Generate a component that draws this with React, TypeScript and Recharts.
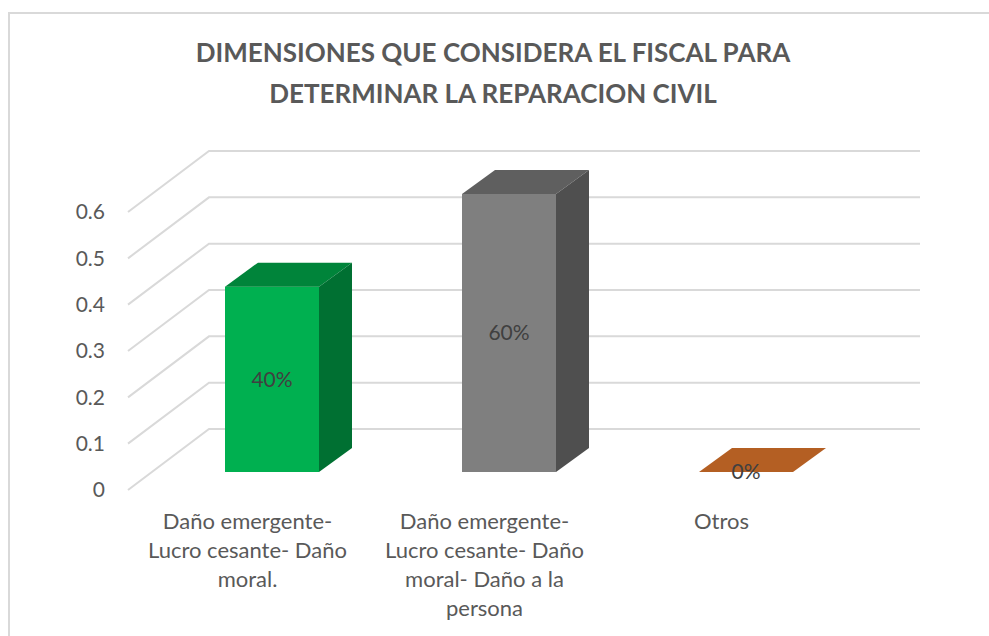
import { BarChart, Bar, XAxis, YAxis, CartesianGrid, Cell, LabelList } from 'recharts';

const categories = [
  'Daño emergente- Lucro cesante- Daño moral.',
  'Daño emergente- Lucro cesante- Daño moral- Daño a la persona',
  'Otros',
];
// how Excel wrapped each category label
const categoryLines = [
  ['Daño emergente-', 'Lucro cesante- Daño', 'moral.'],
  ['Daño emergente-', 'Lucro cesante- Daño', 'moral- Daño a la', 'persona'],
  ['Otros'],
];
const values = [0.4, 0.6, 0];
const yTicks = [0, 0.1, 0.2, 0.3, 0.4, 0.5, 0.6];

const frontColors = ['#00B050', '#7F7F7F', '#B45F23'];
const topColors = ['#00843A', '#5F5F5F', '#B45F23'];
const sideColors = ['#007032', '#4F4F4F', '#8E4A1B'];

const data = categories.map((name, i) => ({ name, value: values[i], idx: i }));

const FONT = 'Lato, "Open Sans", sans-serif';
// 3D depth of the bars
const BAR_DX = 33;
const BAR_DY = 24;

const Bar3D = (props: any) => {
  const { x, y, width, height, payload } = props;
  const i = payload.idx;
  const front = frontColors[i];
  const top = topColors[i];
  const side = sideColors[i];
  if (height <= 0.5) {
    return (
      <polygon
        points={`${x},${y} ${x + BAR_DX},${y - BAR_DY} ${x + width + BAR_DX},${y - BAR_DY} ${x + width},${y}`}
        fill={top}
      />
    );
  }
  return (
    <g>
      <rect x={x} y={y} width={width} height={height} fill={front} />
      <polygon
        points={`${x},${y} ${x + BAR_DX},${y - BAR_DY} ${x + width + BAR_DX},${y - BAR_DY} ${x + width},${y}`}
        fill={top}
      />
      <polygon
        points={`${x + width},${y} ${x + width + BAR_DX},${y - BAR_DY} ${x + width + BAR_DX},${y + height - BAR_DY} ${x + width},${y + height}`}
        fill={side}
      />
    </g>
  );
};

// gridline: front end on the floor edge, diagonal to the back wall, then across
const GridLine3D = (props: any) => {
  const { x1, x2, y1, index } = props;
  const pts = `${x1 - 25},${y1 + 18} ${x1 + 56},${y1 - 43} ${x2 + 56},${y1 - 43}`;
  return <polyline key={`g-${index}`} points={pts} fill="none" stroke="#D9D9D9" strokeWidth={2} />;
};

const YTick = (props: any) => {
  const { x, y, payload } = props;
  return (
    <text x={x - 40} y={y + 18} dy="0.35em" textAnchor="end" fill="#595959" fontSize={21} fontFamily={FONT}>
      {payload.value}
    </text>
  );
};

const XTick = (props: any) => {
  const { x, y, index } = props;
  const lines = categoryLines[index] || [];
  return (
    <text x={x - 24} y={y} textAnchor="middle" fill="#595959" fontSize={22} fontFamily={FONT}>
      {lines.map((l, k) => (
        <tspan key={k} x={x - 24} dy={k === 0 ? 49 : 29}>
          {l}
        </tspan>
      ))}
    </text>
  );
};

export default function App() {
  return (
    <div style={{ position: 'absolute', left: 0, top: 0, width: 989, height: 636, overflow: 'hidden', background: '#fff' }}>
      <div
        style={{
          position: 'absolute',
          left: 8,
          top: 12,
          width: 1000,
          height: 700,
          border: '2px solid #D9D9D9',
        }}
      />
      <div
        style={{
          position: 'absolute',
          left: 0,
          top: 32,
          width: 986,
          textAlign: 'center',
          fontFamily: FONT,
          fontWeight: 700,
          fontSize: 26,
          lineHeight: '41px',
          color: '#595959',
        }}
      >
        DIMENSIONES QUE CONSIDERA EL FISCAL PARA
        <br />
        DETERMINAR LA REPARACION CIVIL
      </div>
      <div style={{ position: 'absolute', left: 0, top: 0 }}>
        <BarChart
          width={989}
          height={636}
          data={data}
          margin={{ top: 194, right: 125, bottom: 64, left: 93 }}
          barCategoryGap={0}
        >
          <CartesianGrid vertical={false} horizontal={GridLine3D} />
          <XAxis dataKey="name" height={100} axisLine={false} tickLine={false} tick={XTick} interval={0} />
          <YAxis
            width={60}
            domain={[0, 0.6]}
            ticks={yTicks}
            axisLine={false}
            tickLine={false}
            tick={YTick}
            interval={0}
          />
          <Bar dataKey="value" barSize={94} shape={Bar3D} isAnimationActive={false}>
            {data.map((d, i) => (
              <Cell key={i} fill={frontColors[i]} />
            ))}
            <LabelList
              dataKey="value"
              position="center"
              formatter={(v: any) => `${Math.round(Number(v) * 100)}%`}
              fill="#404040"
              fontSize={21}
              fontFamily={FONT}
            />
          </Bar>
        </BarChart>
      </div>
    </div>
  );
}
